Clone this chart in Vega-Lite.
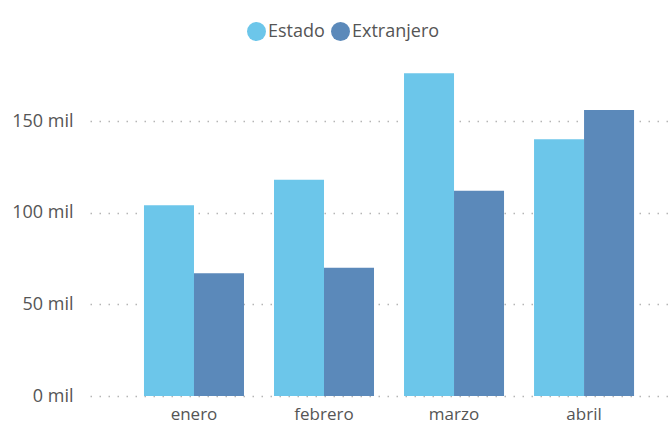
{
  "$schema": "https://vega.github.io/schema/vega-lite/v6.json",
  "width": 579,
  "height": 330,
  "autosize": {"type": "none"},
  "padding": {"left": 90, "top": 66, "right": 0, "bottom": 29},
  "background": "white",
  "config": {
    "font": "Open Sans",
    "view": {"stroke": null}
  },
  "data": {
    "values": [
      {"mes": "enero", "origen": "Estado", "valor": 104000},
      {"mes": "enero", "origen": "Extranjero", "valor": 67000},
      {"mes": "febrero", "origen": "Estado", "valor": 118000},
      {"mes": "febrero", "origen": "Extranjero", "valor": 70000},
      {"mes": "marzo", "origen": "Estado", "valor": 176000},
      {"mes": "marzo", "origen": "Extranjero", "valor": 112000},
      {"mes": "abril", "origen": "Estado", "valor": 140000},
      {"mes": "abril", "origen": "Extranjero", "valor": 156000}
    ]
  },
  "mark": {"type": "bar"},
  "encoding": {
    "x": {
      "field": "mes",
      "type": "nominal",
      "sort": ["enero", "febrero", "marzo", "abril"],
      "scale": {"paddingInner": 0.2308, "paddingOuter": 0.342, "align": 0.607},
      "axis": {
        "title": null,
        "labelAngle": 0,
        "domain": false,
        "ticks": false,
        "grid": false,
        "labelPadding": 10,
        "labelFontSize": 17,
        "labelColor": "#555555"
      }
    },
    "xOffset": {
      "field": "origen",
      "type": "nominal",
      "scale": {"paddingInner": 0, "paddingOuter": 0}
    },
    "y": {
      "field": "valor",
      "type": "quantitative",
      "scale": {"domain": [0, 180000], "nice": false},
      "axis": {
        "title": null,
        "values": [0, 50000, 100000, 150000],
        "labelExpr": "format(datum.value/1000, 'd') + ' mil'",
        "domain": false,
        "ticks": false,
        "grid": true,
        "gridColor": "#b5b5b5",
        "gridDash": [1.5, 7.5],
        "gridWidth": 1.3,
        "labelPadding": 17,
        "labelFontSize": 18,
        "labelColor": "#555555"
      }
    },
    "color": {
      "field": "origen",
      "type": "nominal",
      "scale": {"domain": ["Estado", "Extranjero"], "range": ["#6CC6EA", "#5B89BA"]},
      "legend": {
        "title": null,
        "orient": "none",
        "direction": "horizontal",
        "legendX": 157,
        "legendY": -44,
        "symbolType": "circle",
        "symbolSize": 360,
        "symbolOpacity": 1,
        "symbolStrokeWidth": 0,
        "labelFontSize": 18,
        "labelColor": "#555555",
        "labelOffset": 2,
        "columnPadding": 6
      }
    }
  }
}
